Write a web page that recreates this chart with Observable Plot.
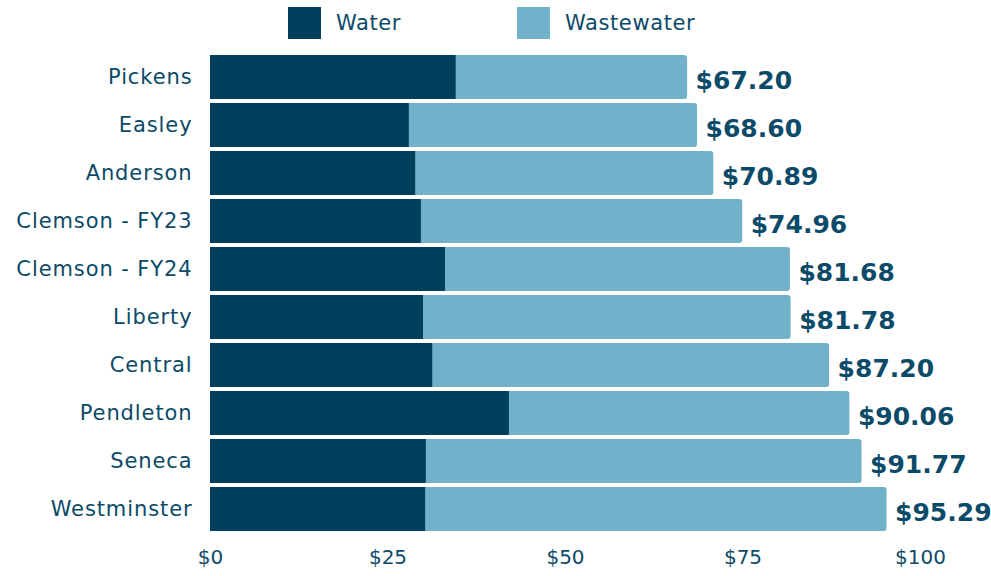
<!DOCTYPE html>
<html>
<head>
<meta charset="utf-8">
<script src="https://cdn.jsdelivr.net/npm/d3@7"></script>
<script src="https://cdn.jsdelivr.net/npm/@observablehq/plot@0.6"></script>
<style>
  html, body { margin: 0; padding: 0; background: #fff; }
  body { width: 991px; height: 576px; overflow: hidden; font-family: "DejaVu Sans", sans-serif; color: #0b4a68; }
  #legend { position: relative; height: 46px; }
  .sw { position: absolute; top: 7px; width: 33px; height: 32px; }
  .lt { position: absolute; top: 8px; font-size: 21px; line-height: 30px; letter-spacing: 0.6px; }
  #chart g[aria-label^="y-axis"] text { font-size: 21px; letter-spacing: 0.9px; }
</style>
</head>
<body>
<div id="legend">
  <div class="sw" style="left:288px;background:#023f5c"></div>
  <div class="lt" style="left:336px">Water</div>
  <div class="sw" style="left:517px;background:#72b1ca"></div>
  <div class="lt" style="left:565px">Wastewater</div>
</div>
<div id="chart"></div>
<script>
const cities = ["Pickens", "Easley", "Anderson", "Clemson - FY23", "Clemson - FY24", "Liberty", "Central", "Pendleton", "Seneca", "Westminster"];
const water = [34.6, 28.0, 28.9, 29.7, 33.1, 30.0, 31.3, 42.1, 30.4, 30.3];
const totals = [67.20, 68.60, 70.89, 74.96, 81.68, 81.78, 87.20, 90.06, 91.77, 95.29];
const xTicks = [0, 25, 50, 75, 100];

const dark = "#023f5c";
const light = "#72b1ca";
const ink = "#0b4a68";

const data = cities.map((c, i) => ({city: c, water: water[i], total: totals[i], wastewater: totals[i] - water[i]}));

const chart = Plot.plot({
  width: 991,
  height: 530,
  marginLeft: 210,
  marginRight: 71,
  marginTop: 7,
  marginBottom: 43,
  style: {fontFamily: "'DejaVu Sans', sans-serif", fontSize: "20px", color: ink, background: "transparent", overflow: "visible"},
  x: {domain: [0, 100], ticks: xTicks, tickFormat: d => "$" + d, tickSize: 0, tickPadding: 16, label: null},
  y: {domain: cities, paddingInner: 0.08, paddingOuter: 0, tickSize: 0, tickPadding: 18, label: null},
  marks: [
    Plot.barX(data, {y: "city", x1: 0, x2: "total", fill: light, rx: 3}),
    Plot.barX(data, {y: "city", x1: 0, x2: "water", fill: dark}),
    Plot.text(data, {y: "city", x: "total", text: d => "$" + d.total.toFixed(2), dx: 8, dy: 3, textAnchor: "start", fontWeight: "bold", fontSize: 25, fill: ink})
  ]
});
document.getElementById("chart").appendChild(chart);
</script>
</body>
</html>
